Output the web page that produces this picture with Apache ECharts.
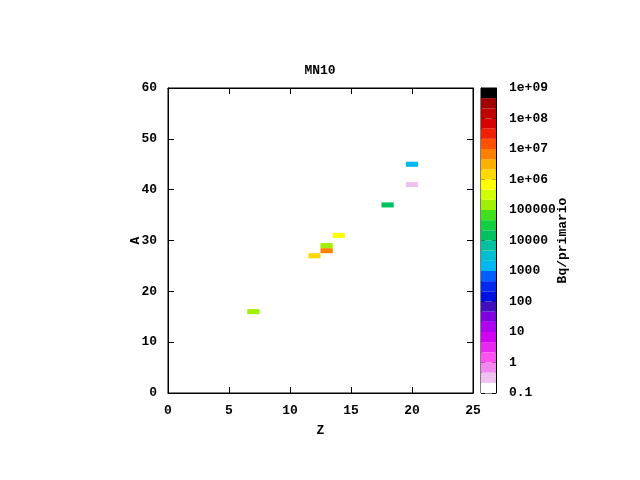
<!DOCTYPE html>
<html>
<head>
<meta charset="utf-8">
<script src="https://cdn.jsdelivr.net/npm/echarts@6/dist/echarts.min.js"></script>
<style>html,body{margin:0;padding:0;background:#fff}#c{width:640px;height:480px}</style>
</head>
<body>
<div id="c"></div>
<script>
// ---- data ----
const zValues = [7, 12, 13, 13, 14, 18, 20, 20];
const aValues = [16, 27, 28, 29, 31, 37, 41, 45];
const activity = [1.5e5, 1.5e6, 7e6, 1.5e5, 7e5, 1.5e4, 0.3, 1.5e3];
const xTicks = [0, 5, 10, 15, 20, 25];
const yTicks = [0, 10, 20, 30, 40, 50, 60];
const cbTickLabels = ['0.1', '1', '10', '100', '1000', '10000', '100000', '1e+06', '1e+07', '1e+08', '1e+09'];
// palette from 0.1 (bottom) to 1e9 (top), 3 steps per decade
const palette = [
  '#ffffff', '#f0c0f0', '#f088f0', '#ff50f0', '#e828f0', '#d000f0',
  '#b000f0', '#8000e0', '#4010c0', '#0010e0', '#0028f0', '#0060ff',
  '#00b8f0', '#00c0d0', '#00c0a0', '#00c060', '#10d040', '#40e020',
  '#a0f000', '#d0ff00', '#ffff00', '#ffd800', '#ffb000', '#ff8000',
  '#ff5000', '#f02000', '#d80000', '#c00000', '#a00000', '#000000'
];
const cbMinExp = -1, stepsPerDecade = 3;

const cells = zValues.map((z, i) => [z, aValues[i], activity[i]]);
const bands = palette.map((c, i) => [Math.pow(10, cbMinExp + i / stepsPerDecade), Math.pow(10, cbMinExp + (i + 1) / stepsPerDecade)]);

function colorFor(v) {
  let idx = Math.floor((Math.log10(v) - cbMinExp) * stepsPerDecade);
  idx = Math.max(0, Math.min(palette.length - 1, idx));
  return palette[idx];
}

const FONT = 'Liberation Mono';
const lbl = { color: '#000', fontFamily: FONT, fontWeight: 'bold', fontSize: 13 };
const line = { onZero: false, lineStyle: { color: '#000' } };

const chart = echarts.init(document.getElementById('c'), null, { renderer: 'canvas' });
chart.setOption({
  animation: false,
  backgroundColor: '#fff',
  title: { text: 'MN10', left: 'center', top: 59, textStyle: Object.assign({}, lbl) },
  grid: [
    { left: 168, right: 167, top: 88, bottom: 87, show: true, borderColor: '#000', borderWidth: 1, backgroundColor: 'transparent' },
    { left: 481, width: 15, top: 88, bottom: 87, show: true, borderColor: '#000', borderWidth: 1, backgroundColor: 'transparent' }
  ],
  xAxis: [
    { gridIndex: 0, type: 'value', min: xTicks[0], max: xTicks[xTicks.length - 1], interval: 5, position: 'bottom',
      axisLine: line, axisTick: { inside: true, length: 6, lineStyle: { color: '#000' } },
      axisLabel: Object.assign({ margin: 11 }, lbl), splitLine: { show: false },
      name: 'Z', nameLocation: 'middle', nameGap: 31, nameMoveOverlap: false, nameTextStyle: Object.assign({}, lbl) },
    { gridIndex: 0, type: 'value', min: xTicks[0], max: xTicks[xTicks.length - 1], interval: 5, position: 'top',
      axisLine: line, axisTick: { inside: true, length: 6, lineStyle: { color: '#000' } },
      axisLabel: { show: false }, splitLine: { show: false } },
    { gridIndex: 1, type: 'value', min: 0, max: 1, show: false }
  ],
  yAxis: [
    { gridIndex: 0, type: 'value', min: yTicks[0], max: yTicks[yTicks.length - 1], interval: 10, position: 'left',
      axisLine: line, axisTick: { inside: true, length: 6, lineStyle: { color: '#000' } },
      axisLabel: Object.assign({ margin: 11 }, lbl), splitLine: { show: false },
      name: 'A', nameLocation: 'middle', nameGap: 26, nameRotate: 90, nameMoveOverlap: false, nameTextStyle: Object.assign({}, lbl) },
    { gridIndex: 0, type: 'value', min: yTicks[0], max: yTicks[yTicks.length - 1], interval: 10, position: 'right',
      axisLine: line, axisTick: { inside: true, length: 6, lineStyle: { color: '#000' } },
      axisLabel: { show: false }, splitLine: { show: false } },
    { gridIndex: 1, type: 'log', logBase: 10, min: 0.1, max: 1e9, interval: 1, position: 'right',
      axisLine: line, axisTick: { inside: true, length: 4, lineStyle: { color: '#000' } },
      axisLabel: Object.assign({ margin: 13, formatter: v => cbTickLabels[Math.round(Math.log10(v)) - cbMinExp] }, lbl),
      splitLine: { show: false },
      name: 'Bq/primario', nameLocation: 'middle', nameGap: 60, nameRotate: 90, nameMoveOverlap: false, nameTextStyle: Object.assign({}, lbl) },
    { gridIndex: 1, type: 'log', logBase: 10, min: 0.1, max: 1e9, interval: 1, position: 'left',
      axisLine: line, axisTick: { inside: true, length: 4, lineStyle: { color: '#000' } },
      axisLabel: { show: false }, splitLine: { show: false } }
  ],
  series: [
    {
      type: 'custom', xAxisIndex: 0, yAxisIndex: 0, data: cells, clip: true,
      renderItem: function (params, api) {
        const p = api.coord([api.value(0) - 0.5, api.value(1) + 0.5]);
        const s = api.size([1, 1]);
        return { type: 'rect', shape: { x: p[0], y: p[1], width: s[0], height: s[1] },
          style: { fill: colorFor(api.value(2)) } };
      }
    },
    {
      type: 'custom', xAxisIndex: 2, yAxisIndex: 2, data: bands, z: 1,
      renderItem: function (params, api) {
        const lo = api.coord([0, api.value(0)]);
        const hi = api.coord([1, api.value(1)]);
        return { type: 'rect', shape: { x: lo[0], y: hi[1], width: hi[0] - lo[0], height: lo[1] - hi[1] },
          style: { fill: palette[params.dataIndex] } };
      },
      encode: { x: -1, y: [0, 1] }
    }
  ]
});
</script>
</body>
</html>
